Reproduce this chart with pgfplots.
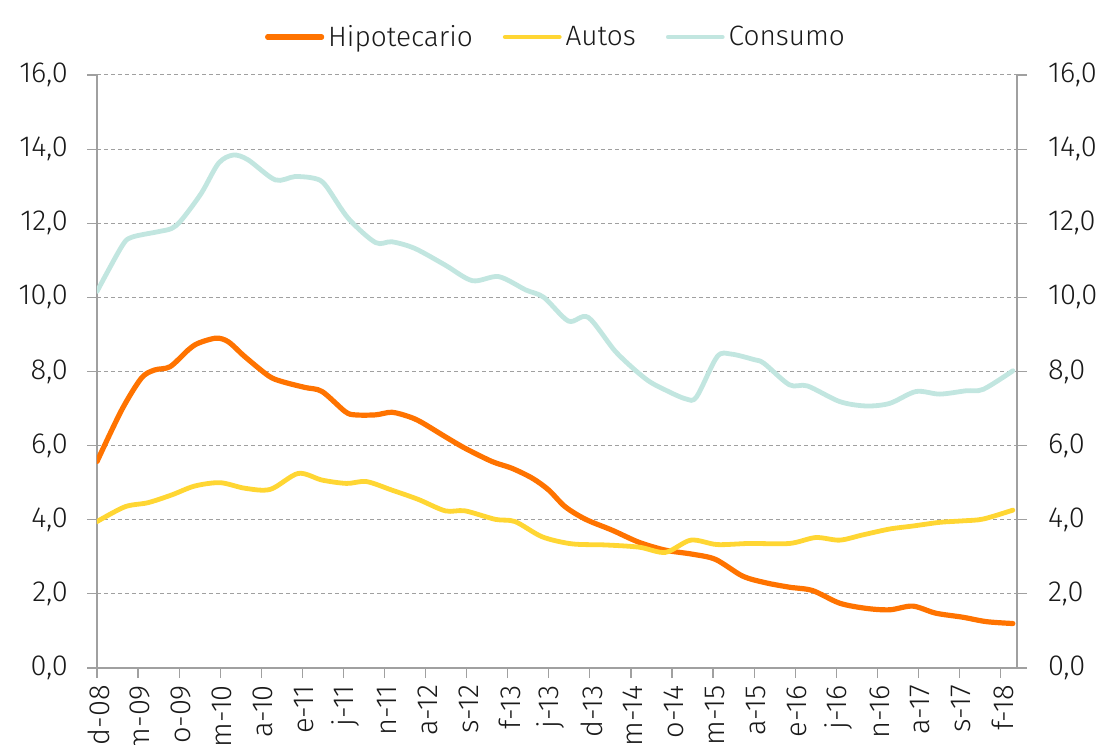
\documentclass[border=0pt]{standalone}
\usepackage{fontspec}
\setmainfont{Fira Sans}[UprightFont={* Light}]
\usepackage{pgfplots}
\pgfplotsset{compat=1.18}

\definecolor{hipo}{HTML}{FF7300}
\definecolor{autos}{HTML}{FFD633}
\definecolor{consumo}{HTML}{C2E6E0}
\definecolor{axisgray}{HTML}{A0A0A0}
\definecolor{txt}{HTML}{1A1A1A}

\pgfplotsset{
  base/.style={
    width=460pt, height=296.5pt, scale only axis,
    xmin=0, xmax=112, ymin=0, ymax=16,
    ytick={0,2,...,16},
    tick align=outside,
    major tick length=5pt,
    tick style={axisgray, line width=0.6pt},
    axis line style={axisgray, line width=0.6pt},
    ticklabel style={font=\fontsize{14.5}{17}\selectfont, text=txt},
    /pgf/number format/.cd, fixed, fixed zerofill, precision=1, use comma, assume math mode=true,
  },
}

\begin{document}
\begin{tikzpicture}
\path[use as bounding box] (-48.5pt,-38.5pt) rectangle (501.5pt,334pt);

% main axis with the three series
\begin{axis}[base,
  axis x line*=bottom, axis y line*=left,
  xtick={0,5,...,110},
  xticklabels={d-08,m-09,o-09,m-10,a-10,e-11,j-11,n-11,a-12,s-12,f-13,j-13,d-13,m-14,o-14,m-15,a-15,e-16,j-16,n-16,a-17,s-17,f-18},
  xticklabel style={rotate=90, anchor=east, yshift=-1pt},
  yticklabel style={xshift=-6pt},
  ymajorgrids,
  grid style={axisgray, dash pattern=on 2pt off 1.5pt, line width=0.5pt},
  legend columns=3,
  legend style={at={(0.5,1.064)}, anchor=center, draw=none, fill=none,
    font=\fontsize{14}{17}\selectfont, text=txt,
    /tikz/every even column/.append style={column sep=13pt}},
  legend image code/.code={\draw[#1, line cap=round] (0pt,0pt) -- (27pt,0pt);},
]
\addplot[hipo, line width=2.6pt, smooth, line cap=round] coordinates {
(0,5.57) (3.0,6.96) (5.4,7.82) (7.0,8.04) (8.9,8.13) (11.1,8.58) (12.3,8.76)
(14.5,8.90) (16.0,8.80) (18.0,8.40) (20.9,7.88) (22.5,7.73) (25.3,7.57)
(27.4,7.46) (30.2,6.92) (31.4,6.83) (33.9,6.83) (35.9,6.90) (38.0,6.78)
(39.5,6.63) (42.4,6.24) (44.8,5.93) (48.1,5.57) (50.5,5.39) (53.0,5.12)
(55.0,4.80) (57.0,4.35) (59.5,4.01) (62.7,3.72) (66.0,3.39) (69.2,3.18)
(72.5,3.07) (75.3,2.93) (78.6,2.48) (81.4,2.30) (84.3,2.18) (87.1,2.09)
(90.4,1.75) (93.6,1.61) (96.5,1.57) (99.3,1.67) (102.1,1.48) (105.4,1.37)
(108.3,1.25) (111.5,1.20)
};
\addlegendentry{Hipotecario}
\addplot[autos, line width=2.4pt, smooth, line cap=round] coordinates {
(0,3.95) (3.4,4.35) (6.2,4.46) (9.1,4.67) (11.9,4.91) (15.0,5.00) (18.0,4.85)
(21.1,4.82) (24.5,5.25) (27.4,5.07) (30.4,4.98) (32.8,5.03) (35.9,4.80)
(39.1,4.55) (42.4,4.24) (44.8,4.24) (48.5,4.01) (50.9,3.95) (54.2,3.54)
(57.8,3.35) (61.9,3.32) (66.0,3.26) (69.2,3.12) (72.3,3.45) (75.5,3.33)
(79.4,3.36) (84.3,3.36) (87.5,3.52) (90.4,3.45) (93.2,3.59) (96.5,3.75)
(99.3,3.83) (102.6,3.93) (105.4,3.97) (107.9,4.02) (111.5,4.26)
};
\addlegendentry{Autos}
\addplot[consumo, line width=2.4pt, smooth, line cap=round] coordinates {
(0,10.16) (3.0,11.37) (4.2,11.62) (7.4,11.77) (9.1,11.86) (10.3,12.09)
(12.7,12.81) (14.8,13.62) (16.6,13.84) (18.4,13.71) (21.7,13.17) (24.1,13.26)
(26.5,13.21) (27.8,13.03) (30.6,12.13) (33.9,11.48) (35.9,11.50) (38.7,11.32)
(42.4,10.87) (45.7,10.45) (48.9,10.56) (52.2,10.20) (54.4,10.00) (57.4,9.36)
(59.8,9.46) (63.2,8.52) (66.8,7.80) (69.2,7.50) (71.7,7.26) (73.0,7.32)
(75.5,8.40) (77.2,8.47) (80.0,8.32) (81.2,8.22) (84.3,7.64) (86.5,7.61)
(90.4,7.19) (93.6,7.07) (96.5,7.14) (99.7,7.46) (102.6,7.39) (105.8,7.48)
(107.9,7.52) (111.5,8.02)
};
\addlegendentry{Consumo}
\end{axis}

% right-hand y axis with the same scale
\begin{axis}[base,
  axis x line=none, axis y line*=right,
  yticklabel style={xshift=7pt},
]
\end{axis}
\end{tikzpicture}
\end{document}
